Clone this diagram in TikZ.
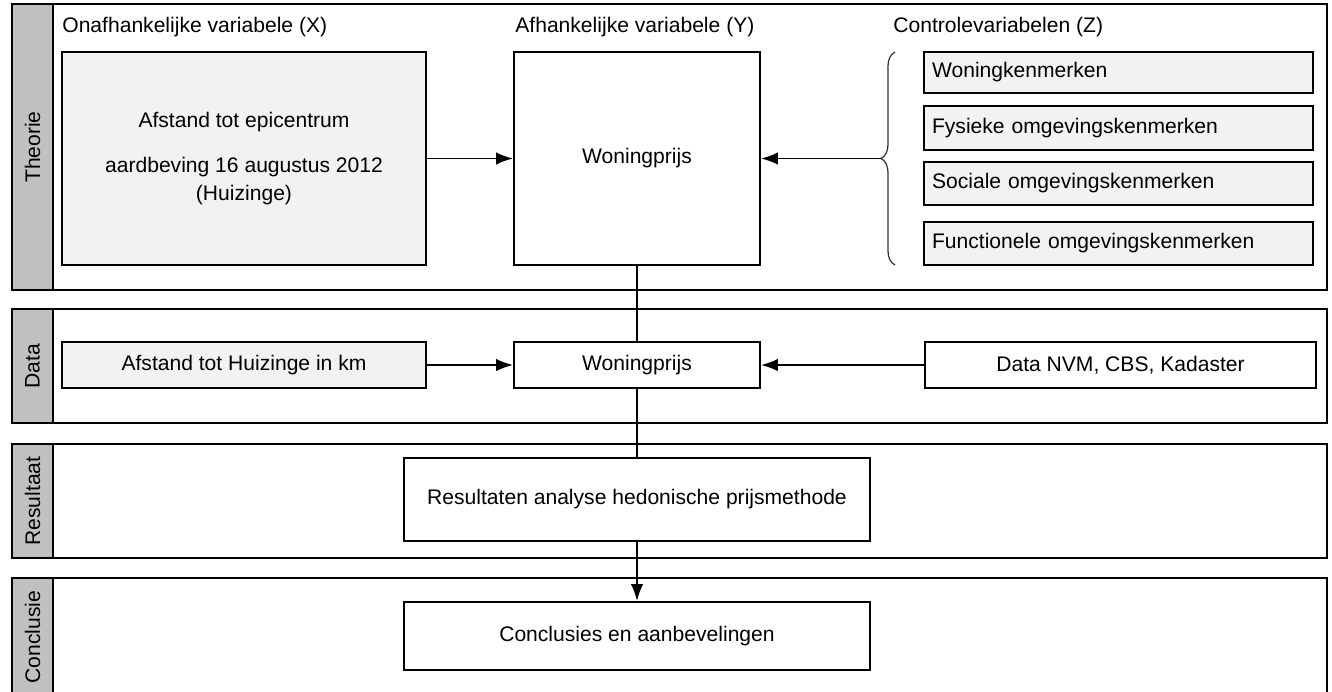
\documentclass[tikz,border=0pt]{standalone}
\usepackage{fontspec}
\setmainfont{Liberation Sans}
\usepackage{tikz}
\usetikzlibrary{arrows.meta, decorations.pathreplacing, positioning}
\definecolor{tabgray}{HTML}{C0C0C0}
\definecolor{boxgray}{HTML}{F2F2F2}
\tikzstyle{band}=[draw, line width=1.2pt, shape=rectangle, inner sep=0pt, minimum width=26.3cm]
\tikzstyle{tab}=[draw, line width=1.2pt, fill=tabgray, shape=rectangle, inner sep=0pt, minimum width=0.82cm]
\tikzstyle{blok}=[draw, line width=1.1pt, shape=rectangle, align=center, inner sep=0pt]
\tikzstyle{zblok}=[blok, fill=boxgray, align=left, inner xsep=0.16cm, text width=7.46cm, minimum width=7.78cm]
\tikzstyle{lijn}=[line width=1.1pt]
\tikzset{>={Latex[length=3.4mm, width=2.5mm]}}

\begin{document}
\begin{tikzpicture}[x=0.02cm, y=-0.02cm, every node/.style={font=\fontsize{12}{16}\selectfont}]
\useasboundingbox (0,0) rectangle (1332,691);
% the four bands
\node[band, minimum height=5.72cm] (theorie) at (669.5,147) {};
\node[band, minimum height=2.28cm] (data) at (669.5,366) {};
\node[band, minimum height=2.28cm] (resultaat) at (669.5,501) {};
\node[band, minimum height=2.36cm] (conclusie) at (669.5,637) {};
% the grey tabs
\node[tab, minimum height=5.72cm] (theorietab) at (32.5,147) {\rotatebox{90}{Theorie}};
\node[tab, minimum height=2.28cm] (datatab) at (32.5,366) {\rotatebox{90}{Data}};
\node[tab, minimum height=2.28cm] (resultaattab) at (32.5,501) {\rotatebox{90}{Resultaat}};
\node[tab, minimum height=2.36cm] (conclusietab) at (32.5,637) {\rotatebox{90}{Conclusie}};
% the headers
\node[anchor=west, inner sep=0pt] (xkop) at (62,27) {Onafhankelijke variabele (X)};
\node[anchor=west, inner sep=0pt] (ykop) at (515,27) {Afhankelijke variabele (Y)};
\node[anchor=west, inner sep=0pt] (zkop) at (893,27) {Controlevariabelen (Z)};
% theory boxes
\node[blok, fill=boxgray, minimum width=7.28cm, minimum height=4.26cm] (xbox) at (244,158.5) {Afstand tot epicentrum\\[10pt] aardbeving 16 augustus 2012\\ (Huizinge)};
\node[blok, minimum width=4.92cm, minimum height=4.26cm] (ybox) at (637,158.5) {Woningprijs};
\node[zblok, minimum height=0.82cm] (z1) at (1118.5,72.5) {Woningkenmerken};
\node[zblok, minimum height=0.88cm] (z2) at (1118.5,128) {Fysieke omgevingskenmerken};
\node[zblok, minimum height=0.86cm] (z3) at (1118.5,183.5) {Sociale omgevingskenmerken};
\node[zblok, minimum height=0.86cm] (z4) at (1118.5,243.5) {Functionele omgevingskenmerken};
% the brace
\draw[line width=0.7pt, black!80, decorate, decoration={brace, amplitude=0.28cm}] (895,265) -- (895,52);
\coordinate (bracetip) at (881,158.5);
% data boxes
\node[blok, fill=boxgray, minimum width=7.28cm, minimum height=0.92cm] (afstand) at (244,365) {Afstand tot Huizinge in km};
\node[blok, minimum width=4.92cm, minimum height=0.92cm] (woning) at (637,365) {Woningprijs};
\node[blok, minimum width=7.82cm, minimum height=0.92cm] (bron) at (1120.5,365) {Data NVM, CBS, Kadaster};
% result and conclusion
\node[blok, minimum width=9.34cm, minimum height=1.66cm] (analyse) at (637,499.5) {Resultaten analyse hedonische prijsmethode};
\node[blok, minimum width=9.34cm, minimum height=1.36cm] (advies) at (637,636) {Conclusies en aanbevelingen};
% the connectors
\draw[lijn, ->] (xbox.east) -- (ybox.west);
\draw[lijn, ->] (bracetip) -- (ybox.east);
\draw[lijn, ->] (afstand.east) -- (woning.west);
\draw[lijn, ->] (bron.west) -- (woning.east);
\draw[lijn] (ybox.south) -- (woning.north);
\draw[lijn] (woning.south) -- (analyse.north);
\draw[lijn, ->] (analyse.south) -- (advies.north);
\end{tikzpicture}
\end{document}
